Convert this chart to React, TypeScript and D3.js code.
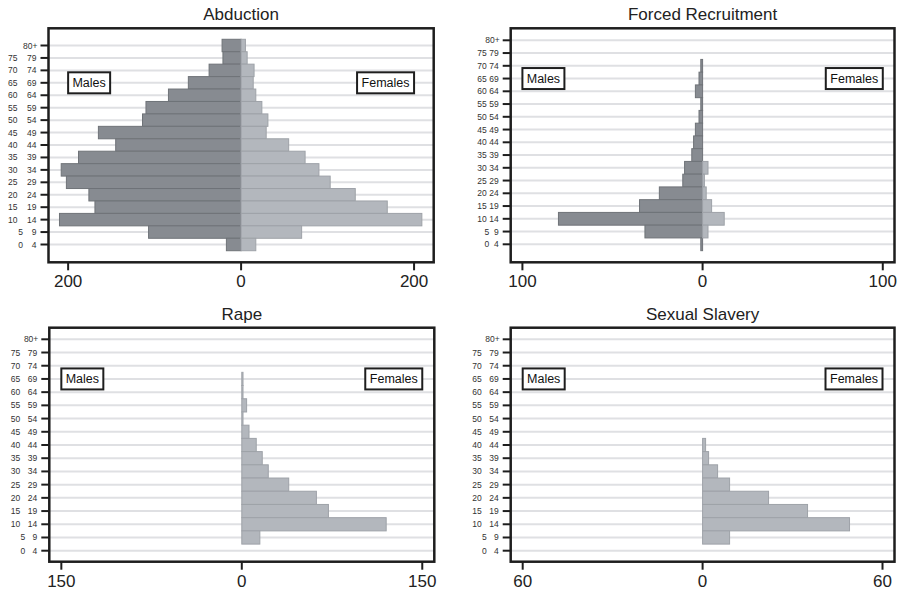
import * as React from 'react'
import * as d3 from 'd3'

// age groups, top to bottom
const ageGroups = ['80+', '75 79', '70 74', '65 69', '60 64', '55 59', '50 54', '45 49', '40 44',
	'35 39', '30 34', '25 29', '20 24', '15 19', '10 14', '5 9', '0 4']

const abductionMales = [22, 21, 37, 61, 84, 110, 114, 165, 145, 188, 208, 202, 176, 169, 210, 107, 17]
const abductionFemales = [5, 7, 15, 14, 17, 24, 31, 29, 55, 74, 90, 103, 132, 169, 209, 70, 17]

const recruitMales = [0, 0, 1, 2, 4, 1, 2, 4, 5, 6, 10, 11, 24, 35, 80, 32, 1]
const recruitFemales = [0, 0, 0, 0, 0, 0, 0, 0, 0, 0, 3, 1, 2, 5, 12, 3, 0]

const rapeMales = [0, 0, 0, 0, 0, 0, 0, 0, 0, 0, 0, 0, 0, 0, 0, 0, 0]
const rapeFemales = [0, 0, 0, 1, 1, 4, 1, 6, 12, 17, 22, 39, 62, 72, 120, 15, 0]

const slaveryMales = [0, 0, 0, 0, 0, 0, 0, 0, 0, 0, 0, 0, 0, 0, 0, 0, 0]
const slaveryFemales = [0, 0, 0, 0, 0, 0, 0, 0, 1, 2, 5, 9, 22, 35, 49, 9, 0]

const titles = ['Abduction', 'Forced Recruitment', 'Rape', 'Sexual Slavery']
const tickMax = [200, 100, 150, 60]

const maleFill = '#878b91'
const maleStroke = '#6f7378'
const femaleFill = '#b3b7bd'
const femaleStroke = '#9ea2a8'
const ink = '#1e1e1e'
const font = '"Liberation Sans", Arial, Helvetica, sans-serif'

interface PanelProps {
	title: string
	males: number[]
	females: number[]
	tick: number
	x0: number; x1: number; y0: number; y1: number
	xMax: number
	yTop: number; yBottom: number
	loCol: number
	oneShift: number
}

const Panel = (p: PanelProps) => {
	const x = d3.scaleLinear().domain([-p.xMax, p.xMax]).range([p.x0, p.x1])
	const y = d3.scalePoint<string>().domain(ageGroups).range([p.yTop, p.yBottom])
	const step = y.step()
	const cx = (p.x0 + p.x1) / 2
	const boxY = y('65 69')!
	const xticks = [-p.tick, 0, p.tick]

	return (
		<g fontFamily={font}>
			<text x={cx} y={p.y0 - 8} textAnchor="middle" fontSize={17} fill="#222">{p.title}</text>
			{ageGroups.map(a => (
				<line key={'g' + a} x1={p.x0} x2={p.x1} y1={y(a)} y2={y(a)} stroke="#dfe0e3" strokeWidth={2} />
			))}
			{p.males.map((v, i) => v > 0 && (
				<rect key={'m' + i} x={x(-v)} width={x(0) - x(-v)} y={y(ageGroups[i])! - step / 2} height={step}
					fill={maleFill} stroke={maleStroke} strokeWidth={1} />
			))}
			{p.females.map((v, i) => v > 0 && (
				<rect key={'f' + i} x={x(0)} width={x(v) - x(0)} y={y(ageGroups[i])! - step / 2} height={step}
					fill={femaleFill} stroke={femaleStroke} strokeWidth={1} />
			))}
			<rect x={p.x0} y={p.y0} width={p.x1 - p.x0} height={p.y1 - p.y0} fill="none" stroke={ink} strokeWidth={2.5} />
			{ageGroups.map(a => {
				const parts = a.split(' ')
				const yy = y(a)!
				return (
					<g key={'t' + a}>
						<line x1={p.x0 - 8} x2={p.x0} y1={yy} y2={yy} stroke={ink} strokeWidth={2} />
						{parts.length === 1
							? <text x={p.x0 - 11} y={yy + 3} textAnchor="end" fontSize={8.5} fill="#333">{parts[0]}</text>
							: <>
								<text x={p.x0 - p.loCol + (parts[0].length === 1 ? p.oneShift : 0)} y={yy + 3} textAnchor="end"
									fontSize={8.5} fill="#333">{parts[0]}</text>
								<text x={p.x0 - 12} y={yy + 3} textAnchor="end" fontSize={8.5} fill="#333">{parts[1]}</text>
							</>}
					</g>
				)
			})}
			{xticks.map(t => (
				<g key={'x' + t}>
					<line x1={x(t)} x2={x(t)} y1={p.y1} y2={p.y1 + 8} stroke={ink} strokeWidth={2} />
					<text x={x(t)} y={p.y1 + 25} textAnchor="middle" fontSize={17} fill="#222">{Math.abs(t)}</text>
				</g>
			))}
			<rect x={x(-p.tick)} y={boxY - 10.5} width={42} height={21} fill="#fff" stroke={ink} strokeWidth={2} />
			<text x={x(-p.tick) + 21} y={boxY + 4.5} textAnchor="middle" fontSize={12.5} fill="#111">Males</text>
			<rect x={x(p.tick) - 57} y={boxY - 10.5} width={57} height={21} fill="#fff" stroke={ink} strokeWidth={2} />
			<text x={x(p.tick) - 28.5} y={boxY + 4.5} textAnchor="middle" fontSize={12.5} fill="#111">Females</text>
		</g>
	)
}

const App: React.FC = () => {
	const W = 901, H = 594
	return (
		<svg width={W} height={H} style={{ position: 'absolute', left: 0, top: 0, background: '#fff' }}>
			<Panel title={titles[0]} males={abductionMales} females={abductionFemales} tick={tickMax[0]}
				x0={48.5} x1={433.7} y0={28.3} y1={262.3} xMax={222.7} yTop={45.5} yBottom={244.5} loCol={31} oneShift={5.5} />
			<Panel title={titles[1]} males={recruitMales} females={recruitFemales} tick={tickMax[1]}
				x0={510.7} x1={894.5} y0={28.3} y1={262.3} xMax={106.5} yTop={40.3} yBottom={244.3} loCol={24} oneShift={2.5} />
			<Panel title={titles[2]} males={rapeMales} females={rapeFemales} tick={tickMax[2]}
				x0={49.3} x1={434.3} y0={327.7} y1={561.7} xMax={160} yTop={339.3} yBottom={550.7} loCol={29} oneShift={5} />
			<Panel title={titles[3]} males={slaveryMales} females={slaveryFemales} tick={tickMax[3]}
				x0={510.7} x1={894.5} y0={327.7} y1={561.7} xMax={64} yTop={339.3} yBottom={550.7} loCol={29} oneShift={5} />
		</svg>
	)
}

export default App
